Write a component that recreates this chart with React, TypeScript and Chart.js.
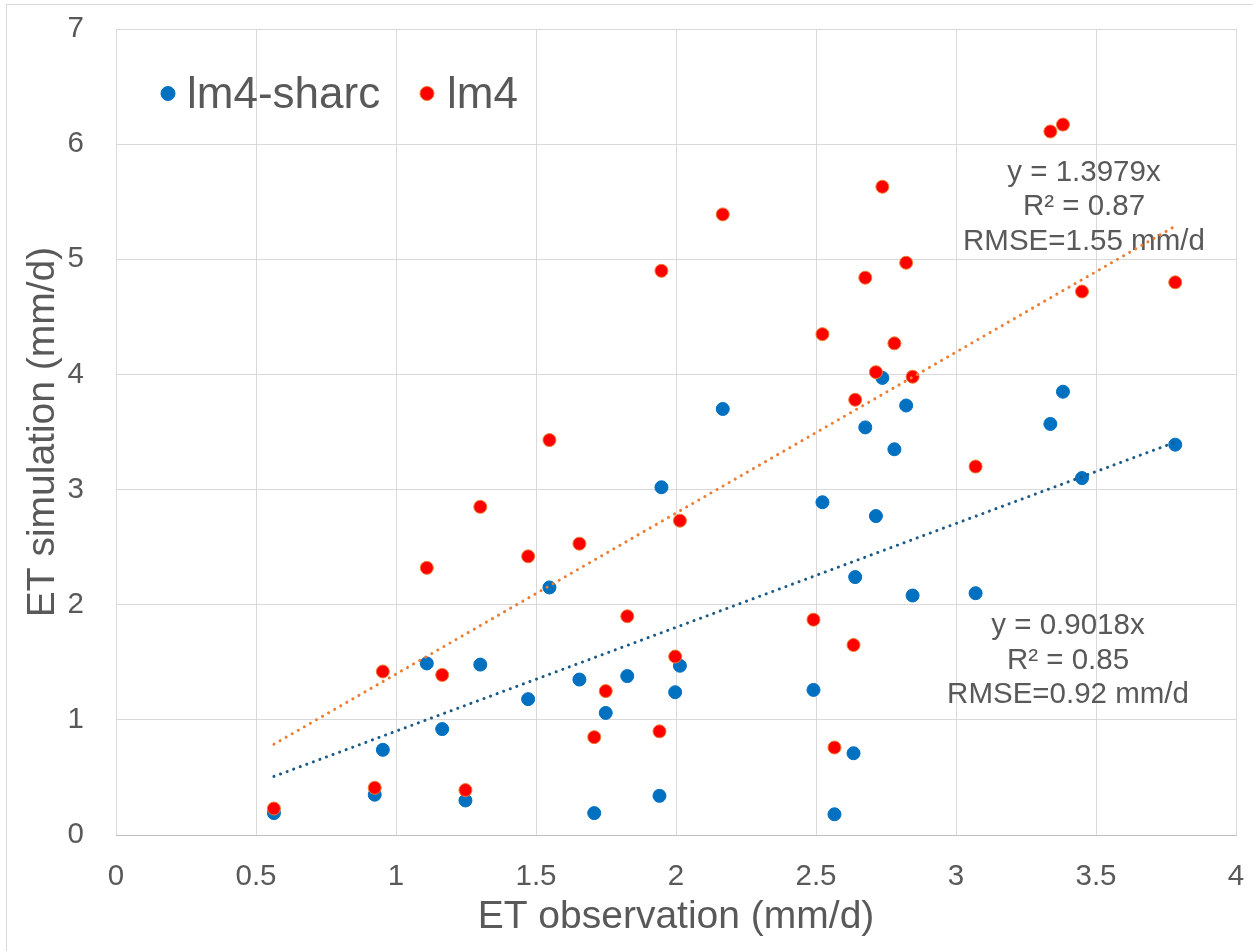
import React, { useEffect, useRef } from 'react';
import { Chart, registerables } from 'chart.js';

Chart.register(...registerables);

// ET observation (mm/d) — shared x values of both series
const ET_OBS = [
  0.564, 0.924, 0.953, 1.110, 1.165, 1.248, 1.301, 1.472, 1.548, 1.655, 1.708, 1.749,
  1.826, 1.941, 1.948, 1.997, 2.014, 2.167, 2.491, 2.523, 2.566, 2.634, 2.640, 2.676,
  2.714, 2.737, 2.780, 2.822, 2.845, 3.070, 3.337, 3.382, 3.450, 3.783,
];
// lm4-sharc simulation (mm/d)
const LM4_SHARC = [
  0.19, 0.35, 0.74, 1.49, 0.92, 0.30, 1.48, 1.18, 2.15, 1.35, 0.19, 1.06,
  1.38, 0.34, 3.02, 1.24, 1.47, 3.70, 1.26, 2.89, 0.18, 0.71, 2.24, 3.54,
  2.77, 3.97, 3.35, 3.73, 2.08, 2.10, 3.57, 3.85, 3.10, 3.39,
];
// lm4 simulation (mm/d)
const LM4 = [
  0.23, 0.41, 1.42, 2.32, 1.39, 0.39, 2.85, 2.42, 3.43, 2.53, 0.85, 1.25,
  1.90, 0.90, 4.90, 1.55, 2.73, 5.39, 1.87, 4.35, 0.76, 1.65, 3.78, 4.84,
  4.02, 5.63, 4.27, 4.97, 3.98, 3.20, 6.11, 6.17, 4.72, 4.80,
];
const SERIES_NAMES = ['lm4-sharc', 'lm4'];
const TREND_SLOPES = [0.9018, 1.3979];
const TREND_LABELS = [
  ['y = 0.9018x', 'R² = 0.85', 'RMSE=0.92 mm/d'],
  ['y = 1.3979x', 'R² = 0.87', 'RMSE=1.55 mm/d'],
];
const X_TICK_LABELS = ['0', '0.5', '1', '1.5', '2', '2.5', '3', '3.5', '4'];
const Y_TICK_LABELS = ['0', '1', '2', '3', '4', '5', '6', '7'];
const X_TITLE = 'ET observation (mm/d)';
const Y_TITLE = 'ET simulation (mm/d)';

const FONT = "'Liberation Sans', Arial, sans-serif";
const TEXT = '#595959';
const GRID = '#D9D9D9';
const BLUE = '#0070C0';
const RED = '#FF0000';
const ORANGE = '#ED7D31';
const BLUE_TREND = '#1B5A86';

export default function App() {
  const ref = useRef<HTMLCanvasElement | null>(null);

  useEffect(() => {
    if (!ref.current) return;
    const xMin = Math.min(...ET_OBS);
    const xMax = Math.max(...ET_OBS);
    const pts = (ys: number[]) => ET_OBS.map((x, i) => ({ x, y: ys[i] }));
    const trend = (k: number) => [
      { x: xMin, y: k * xMin },
      { x: xMax, y: k * xMax },
    ];
    const noPad = (s: any) => {
      s.paddingTop = 0;
      s.paddingBottom = 0;
      s.paddingLeft = 0;
      s.paddingRight = 0;
    };

    const decor = {
      id: 'decor',
      beforeDraw(chart: any) {
        const ctx = chart.ctx;
        ctx.save();
        ctx.fillStyle = '#ffffff';
        ctx.fillRect(0, 0, chart.width, chart.height);
        ctx.strokeStyle = GRID;
        ctx.lineWidth = 1;
        ctx.strokeRect(6.5, 4.5, chart.width + 10, chart.height + 10);
        ctx.restore();
      },
      beforeDatasetsDraw(chart: any) {
        const ctx = chart.ctx;
        const xs = chart.scales.x;
        const ys = chart.scales.y;
        const anchors = [
          { x: 3.4, y: 1.743 },
          { x: 3.457, y: 5.683 },
        ];
        ctx.save();
        ctx.fillStyle = TEXT;
        ctx.font = `29.5px ${FONT}`;
        ctx.textAlign = 'center';
        ctx.textBaseline = 'alphabetic';
        TREND_LABELS.forEach((lines, s) => {
          const cx = xs.getPixelForValue(anchors[s].x);
          const cy = ys.getPixelForValue(anchors[s].y);
          lines.forEach((t, i) => ctx.fillText(t, cx, cy + i * 34.5));
        });
        ctx.restore();
      },
      afterDraw(chart: any) {
        const ctx = chart.ctx;
        const { left, top } = chart.chartArea;
        const items = [
          { dx: 52, fill: BLUE, stroke: BLUE, textDx: 71 },
          { dx: 311, fill: RED, stroke: ORANGE, textDx: 331 },
        ];
        ctx.save();
        ctx.font = `44px ${FONT}`;
        ctx.textAlign = 'left';
        ctx.textBaseline = 'alphabetic';
        items.forEach((it, i) => {
          ctx.beginPath();
          ctx.arc(left + it.dx, top + 64.5, 7, 0, Math.PI * 2);
          ctx.fillStyle = it.fill;
          ctx.fill();
          ctx.lineWidth = 1;
          ctx.strokeStyle = it.stroke;
          ctx.stroke();
          ctx.fillStyle = TEXT;
          ctx.fillText(SERIES_NAMES[i], left + it.textDx, top + 79);
        });
        ctx.restore();
      },
    };

    const chart = new Chart(ref.current, {
      type: 'scatter',
      data: {
        datasets: [
          {
            label: SERIES_NAMES[0] + ' trend',
            data: trend(TREND_SLOPES[0]),
            showLine: true,
            borderColor: BLUE_TREND,
            borderWidth: 3,
            borderDash: [0.1, 6.9],
            borderCapStyle: 'round',
            pointRadius: 0,
            order: 1,
          },
          {
            label: SERIES_NAMES[1] + ' trend',
            data: trend(TREND_SLOPES[1]),
            showLine: true,
            borderColor: ORANGE,
            borderWidth: 3,
            borderDash: [0.1, 6.9],
            borderCapStyle: 'round',
            pointRadius: 0,
            order: 1,
          },
          {
            label: SERIES_NAMES[1],
            data: pts(LM4),
            backgroundColor: RED,
            borderColor: ORANGE,
            borderWidth: 1,
            pointRadius: 6.5,
            order: 2,
          },
          {
            label: SERIES_NAMES[0],
            data: pts(LM4_SHARC),
            backgroundColor: BLUE,
            borderColor: BLUE,
            borderWidth: 1,
            pointRadius: 6.5,
            order: 3,
          },
        ],
      },
      options: {
        responsive: false,
        animation: false,
        devicePixelRatio: 1,
        layout: { padding: { left: 0, top: 29, right: 17, bottom: 0 } },
        plugins: {
          legend: { display: false },
          tooltip: { enabled: false },
        },
        scales: {
          x: {
            type: 'linear',
            min: 0,
            max: 4,
            afterFit: (s: any) => {
              s.height = 116;
              noPad(s);
            },
            ticks: {
              stepSize: 0.5,
              padding: 24,
              color: TEXT,
              font: { family: FONT, size: 29.5 },
              callback: (_v: any, i: number) => X_TICK_LABELS[i],
            },
            grid: { color: GRID, lineWidth: 1, drawTicks: false },
            border: { display: true, color: '#BFBFBF', width: 1 },
            title: {
              display: true,
              text: X_TITLE,
              color: TEXT,
              font: { family: FONT, size: 39 },
              padding: { top: 0, bottom: 10 },
            },
          },
          y: {
            type: 'linear',
            min: 0,
            max: 7,
            afterFit: (s: any) => {
              s.width = 116;
              noPad(s);
            },
            ticks: {
              stepSize: 1,
              padding: 32,
              color: TEXT,
              font: { family: FONT, size: 29.5 },
              callback: (_v: any, i: number) => Y_TICK_LABELS[i],
            },
            grid: { color: GRID, lineWidth: 1, drawTicks: false },
            border: { display: false },
            title: {
              display: true,
              text: Y_TITLE,
              color: TEXT,
              font: { family: FONT, size: 39 },
              padding: { top: 20, bottom: 0 },
            },
          },
        },
      },
      plugins: [decor],
    } as any);

    return () => chart.destroy();
  }, []);

  return (
    <div style={{ position: 'absolute', left: 0, top: 0, width: 1253, height: 951, overflow: 'hidden' }}>
      <canvas ref={ref} width={1253} height={951} style={{ display: 'block' }} />
    </div>
  );
}
